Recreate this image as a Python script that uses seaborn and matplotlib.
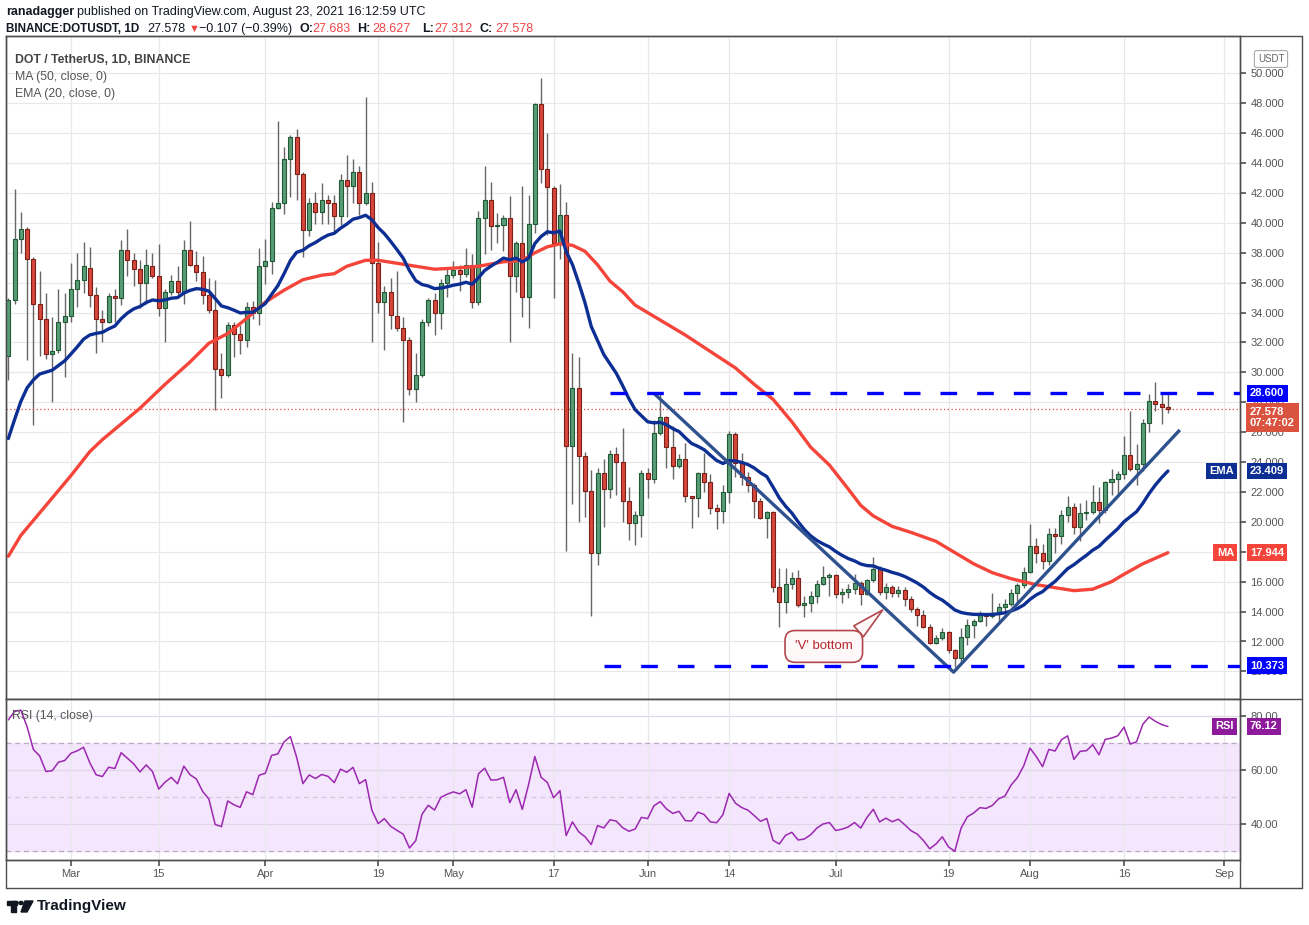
import numpy as np
import pandas as pd
import matplotlib
matplotlib.use('Agg')
import matplotlib.pyplot as plt
import matplotlib.patches as mpatches
import seaborn as sns

# ---- data (DOT/USDT, 1D, Binance) ----
start = '2021-02-19'
opens = [31.1, 34.85, 38.9, 39.6, 37.6, 34.55, 33.6, 31.2, 31.5, 33.4,
         33.8, 35.6, 36.2, 37.0, 35.2, 33.6, 33.35, 35.1, 34.95, 38.2,
         37.55, 36.9, 35.95, 37.1, 36.45, 34.3, 35.35, 36.1, 35.35, 38.2,
         37.2, 36.7, 35.2, 34.2, 30.2, 29.8, 33.2, 32.6, 32.2, 34.4,
         34.0, 37.1, 37.45, 41.0, 41.35, 44.3, 45.75, 43.3, 39.5, 41.3,
         40.75, 41.55, 41.3, 40.45, 42.9, 42.5, 43.4, 41.35, 42.0, 37.35,
         34.7, 35.4, 33.8, 33.0, 32.2, 28.9, 29.8, 33.4, 34.83, 33.95,
         35.98, 36.5, 36.88, 36.6, 37.2, 34.7, 40.33, 41.55, 39.8, 39.86,
         40.3, 36.45, 38.67, 35.07, 39.95, 47.93, 43.6, 42.36, 38.67, 40.55,
         25.07, 28.95, 24.38, 22.05, 17.95, 23.29, 22.2, 24.55, 24.0, 21.4,
         19.9, 20.46, 23.25, 22.85, 25.93, 27.0, 25.0, 23.76, 24.19, 21.7,
         21.6, 23.25, 22.7, 20.95, 20.75, 22.0, 25.86, 23.92, 23.03, 22.5,
         21.42, 20.24, 20.64, 15.67, 14.67, 15.83, 16.23, 14.44, 14.56, 15.05,
         15.83, 16.3, 16.45, 15.16, 15.29, 15.5, 15.9, 15.16, 16.1, 16.83,
         15.32, 15.65, 15.23, 15.43, 14.83, 14.16, 13.76, 13.0, 11.93, 12.22,
         12.65, 11.44, 10.88, 12.31, 13.11, 13.38, 13.76, 13.7, 13.9, 14.32,
         14.5, 15.23, 15.76, 16.68, 18.4, 17.95, 17.39, 19.17, 19.08, 20.44,
         20.97, 19.64, 20.57, 20.64, 21.35, 20.8, 22.69, 22.87, 23.18, 24.45,
         23.54, 23.85, 26.59, 28.11, 27.86, 27.683]
highs = [35.0, 42.3, 40.75, 39.75, 37.7, 36.8, 35.3, 33.7, 35.6, 35.3,
         37.3, 38.0, 38.7, 38.4, 35.7, 34.2, 35.3, 35.6, 38.85, 39.6,
         38.0, 37.5, 38.25, 38.0, 38.6, 35.6, 36.5, 37.1, 38.85, 40.1,
         38.1, 37.8, 36.3, 36.2, 31.3, 33.35, 33.35, 33.2, 34.7, 34.8,
         38.3, 38.9, 41.4, 46.8, 45.1, 45.9, 46.3, 43.4, 41.65, 42.1,
         42.7, 41.85, 41.85, 43.3, 44.55, 44.3, 43.8, 48.4, 42.75, 38.75,
         35.8, 36.3, 36.8, 33.7, 32.4, 31.3, 33.6, 35.0, 35.3, 36.26,
         36.9, 37.45, 37.2, 38.3, 37.9, 40.8, 43.83, 42.76, 40.67, 40.55,
         41.8, 38.8, 42.45, 41.86, 48.0, 49.7, 45.98, 42.5, 42.57, 41.4,
         31.33, 31.0, 24.67, 23.5, 23.6, 24.2, 24.83, 24.98, 26.26, 22.36,
         20.7, 23.5, 23.6, 26.82, 28.6, 27.1, 26.4, 24.55, 25.26, 21.75,
         23.36, 24.6, 23.2, 21.2, 22.47, 26.08, 26.0, 24.6, 23.36, 22.6,
         21.6, 20.7, 20.7, 16.94, 16.94, 16.63, 16.8, 15.05, 15.4, 16.1,
         17.05, 16.6, 16.5, 15.6, 15.85, 16.5, 16.05, 16.2, 17.68, 17.05,
         15.9, 15.8, 15.7, 15.65, 15.05, 14.3, 14.1, 13.15, 12.42, 12.87,
         12.72, 11.5, 12.87, 13.49, 13.49, 14.05, 13.9, 15.23, 14.6, 14.83,
         15.5, 15.9, 17.0, 19.84, 18.9, 18.5, 19.57, 19.57, 20.8, 21.7,
         21.24, 21.24, 21.46, 22.47, 22.36, 22.75, 23.54, 23.43, 25.75, 27.42,
         25.21, 26.88, 28.53, 29.33, 28.55, 28.627]
lows = [29.5, 34.6, 38.0, 30.8, 26.5, 31.1, 30.9, 28.0, 31.3, 29.7,
        33.4, 34.4, 35.3, 34.4, 31.3, 32.0, 33.3, 33.4, 34.5, 36.45,
        35.8, 34.3, 34.6, 36.3, 33.8, 32.05, 35.2, 35.2, 34.6, 37.1,
        36.1, 34.6, 33.95, 27.5, 28.3, 29.7, 31.05, 31.2, 31.7, 33.6,
        33.2, 35.9, 36.55, 40.9, 40.6, 41.75, 41.5, 37.7, 39.15, 39.9,
        39.9, 39.9, 39.35, 39.85, 40.4, 41.35, 40.5, 41.2, 32.0, 34.0,
        31.5, 32.9, 32.8, 26.65, 28.5, 28.0, 29.7, 33.1, 32.5, 32.9,
        35.07, 36.3, 35.45, 36.4, 34.3, 34.5, 37.9, 38.2, 38.67, 38.1,
        32.0, 35.4, 33.7, 33.0, 39.3, 42.7, 39.2, 35.0, 37.57, 18.07,
        21.17, 20.0, 20.3, 13.7, 17.1, 19.67, 21.57, 21.8, 20.0, 18.8,
        18.46, 19.0, 21.6, 22.6, 25.8, 23.6, 22.9, 23.6, 21.36, 19.6,
        20.35, 22.0, 20.5, 19.5, 19.9, 21.24, 23.03, 22.5, 22.0, 20.24,
        20.2, 18.9, 15.34, 13.0, 13.93, 15.5, 14.3, 13.62, 14.0, 14.6,
        15.8, 15.07, 14.9, 14.6, 14.94, 15.2, 14.43, 15.1, 16.0, 15.1,
        14.83, 15.0, 15.0, 14.38, 13.98, 13.04, 12.9, 11.85, 11.8, 12.1,
        11.2, 10.32, 10.66, 11.75, 12.26, 13.3, 13.04, 13.6, 13.4, 14.0,
        14.4, 14.6, 15.6, 16.6, 17.28, 16.83, 17.1, 17.9, 18.5, 20.0,
        19.2, 18.74, 20.1, 20.5, 19.9, 20.6, 21.8, 21.87, 22.85, 23.4,
        22.47, 23.4, 26.04, 27.44, 26.53, 27.312]
closes = [34.85, 38.9, 39.6, 37.6, 34.55, 33.6, 31.2, 31.4, 33.4, 33.8,
          35.6, 36.2, 37.1, 35.2, 33.6, 33.35, 35.1, 34.95, 38.2, 37.55,
          36.9, 35.95, 37.2, 36.45, 34.3, 35.35, 36.1, 35.35, 38.2, 37.2,
          36.7, 35.2, 34.2, 30.2, 29.8, 33.2, 32.6, 32.2, 34.4, 34.0,
          37.1, 37.45, 41.0, 41.35, 44.3, 45.75, 43.3, 39.5, 41.3, 40.75,
          41.55, 41.3, 40.45, 42.9, 42.5, 43.4, 41.35, 42.0, 37.35, 34.7,
          35.4, 33.85, 33.0, 32.2, 28.9, 29.8, 33.4, 34.83, 33.95, 35.98,
          36.5, 36.88, 36.6, 37.2, 34.7, 40.33, 41.55, 39.8, 39.86, 40.3,
          36.45, 38.67, 35.07, 39.95, 47.93, 43.6, 42.4, 38.67, 40.55, 25.07,
          28.95, 24.38, 22.05, 17.95, 23.29, 22.2, 24.55, 24.0, 21.4, 19.95,
          20.46, 23.25, 22.85, 25.93, 27.0, 25.0, 23.76, 24.19, 21.7, 21.6,
          23.25, 22.7, 20.95, 20.75, 22.0, 25.86, 23.92, 23.03, 22.5, 21.42,
          20.24, 20.64, 15.67, 14.67, 15.83, 16.23, 14.44, 14.56, 15.05, 15.83,
          16.3, 16.45, 15.16, 15.29, 15.5, 15.9, 15.16, 16.1, 16.83, 15.32,
          15.65, 15.23, 15.43, 14.83, 14.16, 13.76, 13.0, 11.93, 12.22, 12.65,
          11.44, 10.88, 12.31, 13.11, 13.38, 13.76, 13.7, 13.9, 14.32, 14.5,
          15.23, 15.76, 16.68, 18.4, 17.95, 17.39, 19.17, 19.08, 20.44, 20.97,
          19.64, 20.57, 20.64, 21.35, 20.8, 22.69, 22.87, 23.18, 24.45, 23.54,
          23.85, 26.59, 28.11, 27.86, 27.683, 27.578]

# 50-day MA (day offset from start, value)
ma50_day = [0, 2, 5, 8, 10, 13, 15, 17, 21, 25, 29, 32, 35, 38, 41, 44, 47, 50,
            52, 54, 57, 59, 62, 65, 68, 72, 75, 79, 82, 84, 86, 88, 90, 92, 94,
            96, 98, 100, 104, 108, 112, 116, 119, 122, 125, 128, 131, 134, 136,
            138, 141, 144, 148, 151, 154, 157, 160, 164, 167, 170, 173, 176,
            178, 181, 185]
ma50_val = [17.7, 19.1, 20.6, 22.1, 23.1, 24.7, 25.5, 26.2, 27.6, 29.2, 30.7,
            31.95, 32.6, 33.6, 34.7, 35.5, 36.2, 36.5, 36.6, 37.1, 37.5, 37.5,
            37.3, 37.1, 36.9, 37.0, 37.1, 37.4, 37.5, 38.0, 38.4, 38.6, 38.5,
            38.1, 37.2, 36.1, 35.4, 34.5, 33.5, 32.5, 31.4, 30.3, 29.2, 28.2,
            26.7, 25.0, 23.8, 22.2, 21.1, 20.4, 19.7, 19.3, 18.7, 17.95, 17.2,
            16.6, 16.2, 15.8, 15.6, 15.4, 15.5, 16.0, 16.5, 17.2, 17.94]

ema_prev = 24.6          # EMA(20) value the day before the first candle
rsi_gain0, rsi_loss0, prev_close = 1.25, 0.42, 31.1

last_price = 27.578
ema_last, ma_last, rsi_last = 23.409, 17.944, 76.12
resist, support = 28.6, 10.373
resist_from, support_from = 96, 95
trend_day = [103, 150.8, 186.9]
trend_px = [28.6, 9.95, 26.15]

tick_dates = ['2021-03-01', '2021-03-15', '2021-04-01', '2021-04-19', '2021-05-01',
              '2021-05-17', '2021-06-01', '2021-06-14', '2021-07-01', '2021-07-19',
              '2021-08-01', '2021-08-16', '2021-09-01']
tick_labels = ['Mar', '15', 'Apr', '19', 'May', '17', 'Jun', '14', 'Jul', '19',
               'Aug', '16', 'Sep']

# ---- indicators ----
ema = []
e = ema_prev
for c in closes:
    e = e + 2 / 21 * (c - e)
    ema.append(e)

rsi = []
g, l, pc = rsi_gain0, rsi_loss0, prev_close
for c in closes:
    d = c - pc
    g = (g * 13 + max(d, 0)) / 14
    l = (l * 13 + max(-d, 0)) / 14
    rsi.append(100 - 100 / (1 + g / l))
    pc = c

t0 = pd.Timestamp(start)
dates = pd.date_range(start, periods=len(closes), freq='D')
df = pd.DataFrame({'date': dates, 'open': opens, 'high': highs, 'low': lows,
                   'close': closes, 'ema': ema, 'rsi': rsi})
ma = pd.DataFrame({'date': t0 + pd.to_timedelta(ma50_day, unit='D'), 'ma': ma50_val})
day = lambda d: t0 + pd.Timedelta(days=d)

# ---- figure ----
sns.set_theme(style='white')
plt.rcParams['font.family'] = ['Liberation Sans', 'DejaVu Sans']
W, H = 1309, 925
fig = plt.figure(figsize=(W / 100, H / 100), dpi=100)
fx = lambda px: px / W
fy = lambda py: 1 - py / H

ax = fig.add_axes([fx(6), fy(699), fx(1240) - fx(6), fy(36) - fy(699)])
axr = fig.add_axes([fx(6), fy(860), fx(1240) - fx(6), fy(699) - fy(860)], sharex=ax)

xlim = (day(-0.37), day(196.5))
ax.set_xlim(xlim)
ax.set_ylim(48 - (699 - 103.3) / 14.95, 48 + (103.3 - 36) / 14.95)
axr.set_ylim(26.67, 86.3)

gridc = '#e8e8e8'
frame = '#4d4d4d'
for a in (ax, axr):
    a.set_facecolor('white')
    for s in a.spines.values():
        s.set_color(frame)
        s.set_linewidth(1.0)
    a.set_xticks(pd.to_datetime(tick_dates))
    a.grid(True, axis='x', color=gridc, lw=0.9)
    a.yaxis.tick_right()
    a.tick_params(axis='y', length=4, color='#555', labelsize=8,
                  labelcolor='#555', pad=3.5, right=True)
ax.set_axisbelow(True)
axr.set_axisbelow(True)

# price grid + axis
yt = np.arange(10, 51, 2)
ax.set_yticks(yt)
ax.set_yticklabels([f'{v:.3f}' for v in yt])
ax.grid(True, axis='y', color=gridc, lw=0.9)
ax.tick_params(axis='x', length=0, labelbottom=False)

# candles
up = df['close'] >= df['open']
ax.vlines(df['date'], df['low'], df['high'], color='#666666', lw=1.0, zorder=2)
ax.bar(df['date'][up], (df['close'] - df['open'])[up], bottom=df['open'][up],
       width=0.64, color='#5a9c77', edgecolor='#1f5a33', linewidth=0.8, zorder=3)
ax.bar(df['date'][~up], (df['open'] - df['close'])[~up], bottom=df['close'][~up],
       width=0.64, color='#d6473b', edgecolor='#7a1f17', linewidth=0.8, zorder=3)

# MA / EMA
sns.lineplot(data=ma, x='date', y='ma', ax=ax, color='#f5453a', lw=2.4, zorder=4)
sns.lineplot(data=df, x='date', y='ema', ax=ax, color='#0d2f94', lw=2.4, zorder=4)

# trend lines, levels, last price
ax.plot([day(d) for d in trend_day], trend_px, color='#2f528f', lw=2.4,
        solid_capstyle='butt', zorder=5)
ax.hlines(resist, day(resist_from), xlim[1], color='#0000ff', lw=2.4,
          linestyles=(0, (5, 6)), zorder=5)
ax.hlines(support, day(support_from), xlim[1], color='#0000ff', lw=2.4,
          linestyles=(0, (5, 6)), zorder=5)
ax.axhline(last_price, color='#e0483e', lw=0.9, ls=(0, (1, 2)), zorder=2)

ax.annotate("'V' bottom", xy=(day(139.5), 14.11), xytext=(day(130.1), 11.67),
            ha='center', va='center', fontsize=9.5, color='#b5272d',
            bbox=dict(boxstyle='round,pad=0.75', fc='#fff8f8', ec='#b3474c', lw=1.2),
            arrowprops=dict(arrowstyle='wedge,tail_width=1.1', fc='#fff8f8',
                            ec='#b3474c', lw=1.2, relpos=(0.9, 0.9),
                            shrinkA=0, shrinkB=0),
            zorder=6)

# RSI panel
axr.axhspan(30, 70, color='#f3e6fd', zorder=0)
for v in (80, 60, 40):
    axr.axhline(v, color='#e0d6e6', lw=0.9, zorder=0.5)
for v in (70, 30):
    axr.axhline(v, color='#b9a9c2', lw=0.9, ls=(0, (4, 3)), zorder=0.6)
axr.axhline(50, color='#d5c8dc', lw=0.9, ls=(0, (4, 3)), zorder=0.6)
sns.lineplot(data=df, x='date', y='rsi', ax=axr, color='#9c27b0', lw=1.1, zorder=3)
axr.set_yticks([40, 60, 80])
axr.set_yticklabels(['40.00', '60.00', '80.00'])
axr.set_xticklabels(tick_labels)
axr.tick_params(axis='x', length=4, color='#555', labelsize=8, labelcolor='#555',
                pad=2.5, direction='out', bottom=True)
for a in (ax, axr):
    a.set_xlabel('')
    a.set_ylabel('')

# right-scale badges
ytr = ax.get_yaxis_transform()
def badge(a, y, text, fc, tc='white', dx=1.0 + 10 / 1234, ha='left', fs=8):
    a.text(dx, y, text, transform=a.get_yaxis_transform(), ha=ha, va='center',
           fontsize=fs, color=tc, clip_on=False, zorder=10, weight='bold',
           bbox=dict(boxstyle='square,pad=0.3', fc=fc, ec=fc, lw=0))

badge(ax, resist, f'{resist:.3f}', '#0000ff')
badge(ax, support, f'{support:.3f}', '#0000ff')
badge(ax, ema_last, f'{ema_last:.3f}', '#0d2f94')
badge(ax, ema_last, 'EMA', '#0d2f94', dx=1.0 - 6 / 1234, ha='right')
badge(ax, ma_last, f'{ma_last:.3f}', '#f5453a')
badge(ax, ma_last, 'MA', '#f5453a', dx=1.0 - 6 / 1234, ha='right')
ax.annotate(f'{last_price:.3f}\n07:47:02', xy=(1.0, last_price), xycoords=ytr,
            xytext=(7, 1.5), textcoords='offset points', ha='left', va='top',
            fontsize=8, color='white', linespacing=1.2, zorder=10, weight='bold',
            annotation_clip=False,
            bbox=dict(boxstyle='square,pad=0.35', fc='#d9533f', ec='#d9533f', lw=0))
badge(axr, rsi_last, f'{rsi_last:.2f}', '#8e1b9b')
badge(axr, rsi_last, 'RSI', '#8e1b9b', dx=1.0 - 6 / 1234, ha='right')
fig.text(fx(1271), fy(59), 'USDT', fontsize=7, color='#666', ha='center', va='center',
         bbox=dict(boxstyle='round,pad=0.35,rounding_size=0.2', fc='white',
                   ec='#aaaaaa', lw=0.8))

# outer frame of the chart
for (x0, y0, x1, y1) in [(6, 36, 1302, 36), (1302, 36, 1302, 888), (6, 888, 1302, 888),
                         (6, 36, 6, 888), (1240, 36, 1240, 888), (6, 699, 1302, 699),
                         (6, 860, 1240, 860)]:
    fig.add_artist(plt.Line2D([fx(x0), fx(x1)], [fy(y0), fy(y1)], color=frame, lw=1.0))

# in-pane legends
fig.text(fx(15), fy(60), 'DOT / TetherUS, 1D, BINANCE', fontsize=8.8, color='#444',
         weight='bold', va='center')
fig.text(fx(15), fy(77), 'MA (50, close, 0)', fontsize=8.8, color='#555', va='center')
fig.text(fx(15), fy(94), 'EMA (20, close, 0)', fontsize=8.8, color='#555', va='center')
fig.text(fx(12), fy(716), 'RSI (14, close)', fontsize=8.8, color='#555', va='center')

# header
dark, red = '#131722', '#ef4444'
fig.text(fx(6), fy(12), 'ranadagger', fontsize=9, weight='bold', color=dark, va='center')
fig.text(fx(77), fy(12), 'published on TradingView.com, August 23, 2021 16:12:59 UTC',
         fontsize=9, color=dark, va='center')
fig.text(fx(6), fy(29), 'BINANCE:DOTUSDT, 1D', fontsize=8.4, weight='bold', color=dark,
         va='center')
fig.text(fx(147), fy(29), '27.578', fontsize=9, color=dark, va='center')
fig.text(fx(189), fy(29), '▼', fontsize=8, color=red, va='center')
fig.text(fx(199), fy(29), '\u22120.107 (\u22120.39%)', fontsize=9, color=dark, va='center')
for lab, lx, val, vx in [('O:', 299, '27.683', 312), ('H:', 357, '28.627', 372),
                         ('L:', 422, '27.312', 434), ('C:', 480, '27.578', 495)]:
    fig.text(fx(lx), fy(29), lab, fontsize=9, weight='bold', color=dark, va='center')
    fig.text(fx(vx), fy(29), val, fontsize=9, color=red, va='center')

# footer logo
fig.add_artist(mpatches.Rectangle((fx(7), fy(905)), fx(10), fy(901) - fy(905),
                                  color=dark, transform=fig.transFigure))
fig.add_artist(mpatches.Rectangle((fx(11), fy(912)), fx(5), fy(901) - fy(912),
                                  color=dark, transform=fig.transFigure))
fig.add_artist(mpatches.Circle((fx(21), fy(903)), 2.2 / W, color=dark,
                               transform=fig.transFigure))
fig.add_artist(mpatches.Polygon([(fx(25), fy(901)), (fx(33), fy(901)),
                                 (fx(27), fy(912)), (fx(21), fy(912))],
                                color=dark, transform=fig.transFigure))
fig.text(fx(37), fy(906), 'TradingView', fontsize=11, weight='bold', color=dark,
         va='center')

fig.savefig('out.png', dpi=100)
